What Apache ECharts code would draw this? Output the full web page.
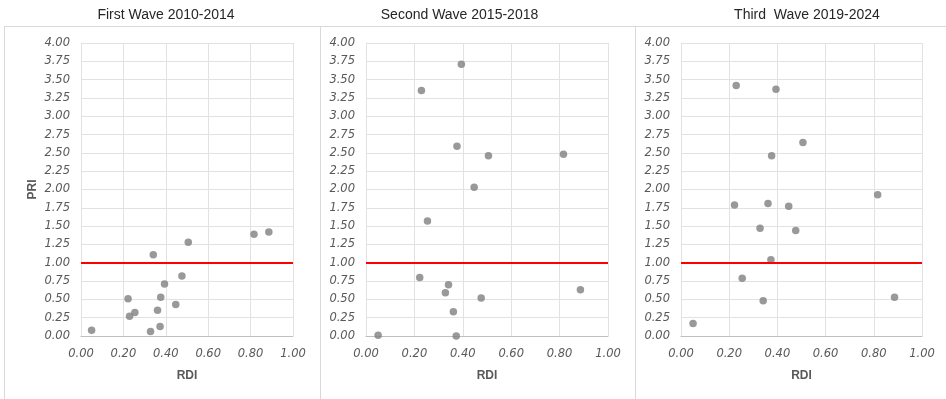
<!DOCTYPE html>
<html>
<head>
<meta charset="utf-8">
<script src="https://cdn.jsdelivr.net/npm/echarts@6/dist/echarts.min.js"></script>
<style>
  html, body { margin: 0; padding: 0; background: #ffffff; }
  #chart { width: 946px; height: 399px; }
</style>
</head>
<body>
<div id="chart"></div>
<script>
// Panel titles
const panelTitles = ["First Wave 2010-2014", "Second Wave 2015-2018", "Third  Wave 2019-2024"];
// RDI values (x) — same countries in every wave
const rdi = [0.05, 0.222, 0.229, 0.254, 0.328, 0.341, 0.361, 0.373, 0.376, 0.394, 0.447, 0.476, 0.506, 0.816, 0.886];
// PRI values (y) per wave
const priWave1 = [0.08, 0.51, 0.27, 0.32, 0.06, 1.11, 0.35, 0.13, 0.53, 0.71, 0.43, 0.82, 1.28, 1.39, 1.42];
const priWave2 = [0.01, 0.80, 3.35, 1.57, 0.59, 0.70, 0.33, 0.00, 2.59, 3.71, 2.03, 0.52, 2.46, 2.48, 0.63];
const priWave3 = [0.17, 1.79, 3.42, 0.79, 1.47, 0.48, 1.81, 1.04, 2.46, 3.37, 1.77, 1.44, 2.64, 1.93, 0.53];
const threshold = 1.0;
// Axis ranges / ticks
const xMin = 0, xMax = 1, xStep = 0.2;
const yMin = 0, yMax = 4, yStep = 0.25;

const waves = [priWave1, priWave2, priWave3];
const gridLefts = [81, 366, 681];
const gridWidths = [212, 242, 241];
const titleCenters = [166, 459.5, 807];

const labelFont = { color: '#595959', fontFamily: 'DejaVu Sans', fontStyle: 'italic', fontSize: 11.5 };
const nameFont = { color: '#595959', fontFamily: 'Liberation Sans', fontWeight: 'bold', fontSize: 12 };

const option = {
  backgroundColor: '#ffffff',
  animation: false,
  grid: waves.map((_, i) => ({ left: gridLefts[i], width: gridWidths[i], top: 43, height: 293 })),
  xAxis: waves.map((_, i) => ({
    type: 'value', gridIndex: i, min: xMin, max: xMax, interval: xStep,
    name: 'RDI', nameLocation: 'middle', nameGap: 34, nameTextStyle: nameFont,
    axisLine: { show: true, lineStyle: { color: '#bfbfbf', width: 1 } },
    axisTick: { show: false },
    axisLabel: Object.assign({ margin: 12, formatter: v => v.toFixed(2) }, labelFont),
    splitLine: { show: true, lineStyle: { color: '#e2e2e2', width: 1 } }
  })),
  yAxis: waves.map((_, i) => ({
    type: 'value', gridIndex: i, min: yMin, max: yMax, interval: yStep,
    name: i === 0 ? 'PRI' : '', nameLocation: 'middle', nameGap: 42, nameRotate: 90, nameTextStyle: nameFont,
    axisLine: { show: true, lineStyle: { color: '#e2e2e2', width: 1 } },
    axisTick: { show: false },
    axisLabel: Object.assign({ margin: 11, formatter: v => v.toFixed(2) }, labelFont),
    splitLine: { show: true, lineStyle: { color: '#e2e2e2', width: 1 } }
  })),
  series: waves.map((ys, i) => ({
    type: 'scatter', xAxisIndex: i, yAxisIndex: i,
    data: rdi.map((x, k) => [x, ys[k]]),
    symbolSize: 7.5,
    itemStyle: { color: '#7f7f7f' },
    markLine: {
      silent: true, symbol: 'none', label: { show: false },
      lineStyle: { color: '#ff0000', width: 2, type: 'solid' },
      data: [{ yAxis: threshold }]
    },
    z: 3
  })),
  graphic: [
    { type: 'line', shape: { x1: 5, y1: 26.5, x2: 946, y2: 26.5 }, style: { stroke: '#d9d9d9', lineWidth: 1 } },
    { type: 'line', shape: { x1: 4.5, y1: 26, x2: 4.5, y2: 399 }, style: { stroke: '#d9d9d9', lineWidth: 1 } },
    { type: 'line', shape: { x1: 320.5, y1: 26, x2: 320.5, y2: 399 }, style: { stroke: '#d9d9d9', lineWidth: 1 } },
    { type: 'line', shape: { x1: 635.5, y1: 26, x2: 635.5, y2: 399 }, style: { stroke: '#d9d9d9', lineWidth: 1 } }
  ].concat(panelTitles.map((t, i) => ({
    type: 'text', x: titleCenters[i], y: 15,
    style: { text: t, fill: '#262626', font: '14px "Liberation Sans"', textAlign: 'center', textVerticalAlign: 'middle' }
  })))
};

const chart = echarts.init(document.getElementById('chart'), null, { renderer: 'canvas' });
chart.setOption(option);
</script>
</body>
</html>
